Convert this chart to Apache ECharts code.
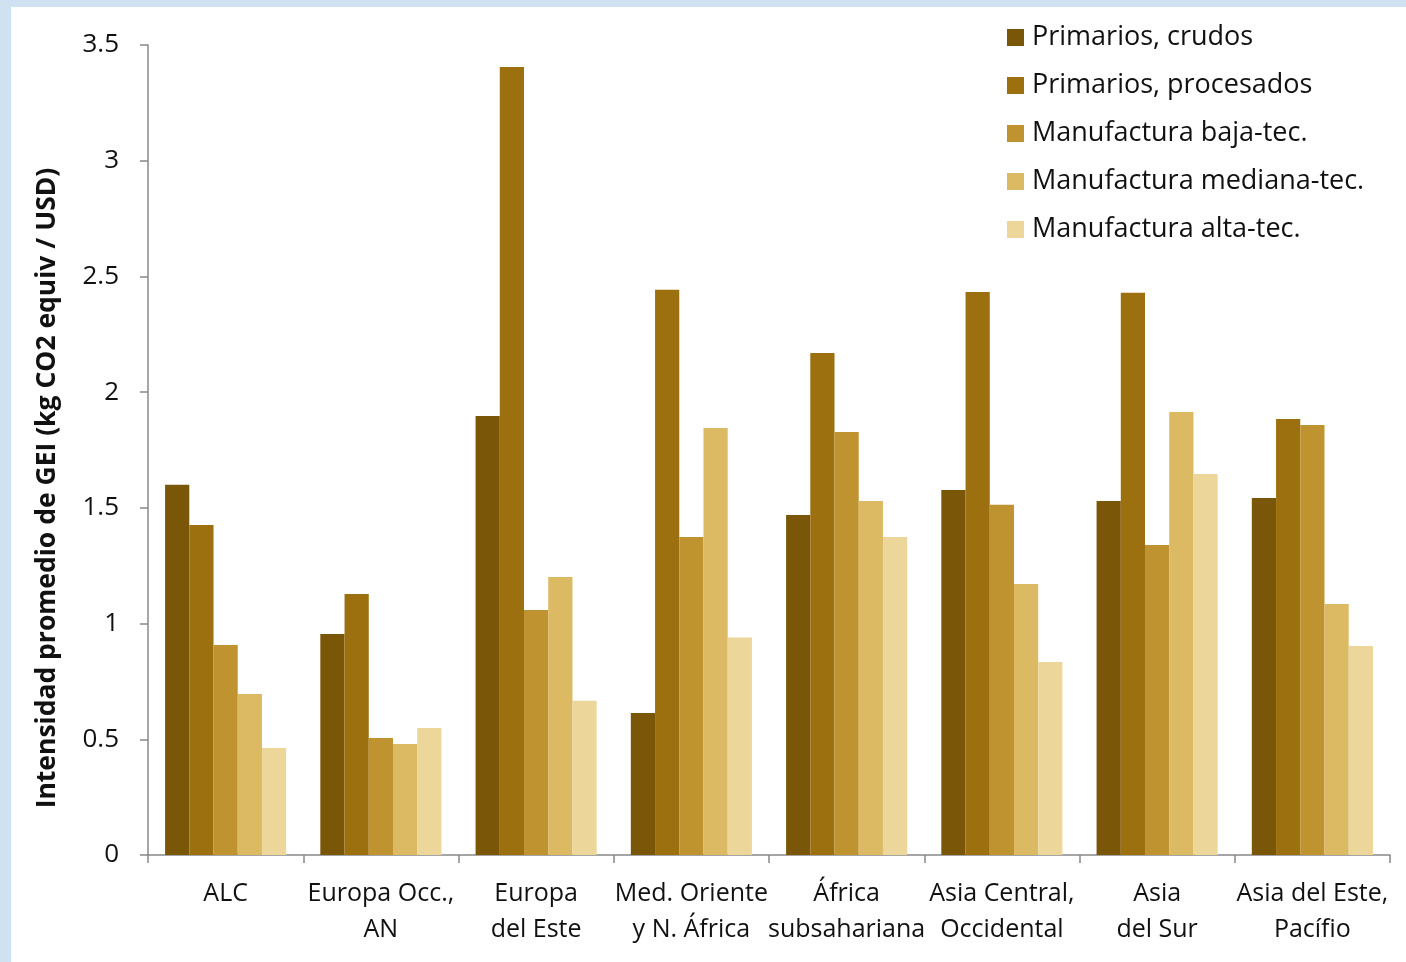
<!DOCTYPE html>
<html><head><meta charset="utf-8">
<script src="https://cdn.jsdelivr.net/npm/echarts@6/dist/echarts.min.js"></script>
<style>
html,body{margin:0;padding:0;width:1406px;height:962px;background:#d0e1f1;overflow:hidden;}
#c{position:absolute;left:11px;top:7px;width:1395px;height:955px;background:#ffffff;}
</style></head>
<body><div id="c"></div>
<script>
const categories = ["ALC", "Europa Occ.,\nAN", "Europa\ndel Este", "Med. Oriente\ny N. África", "África\nsubsahariana", "Asia Central,\nOccidental", "Asia\ndel Sur", "Asia del Este,\nPacífio"];
const seriesNames = ["Primarios, crudos", "Primarios, procesados", "Manufactura baja-tec.", "Manufactura mediana-tec.", "Manufactura alta-tec."];
const primariosCrudos = [1.60, 0.955, 1.897, 0.614, 1.469, 1.577, 1.530, 1.543];
const primariosProcesados = [1.426, 1.128, 3.405, 2.442, 2.169, 2.433, 2.429, 1.884];
const manufBaja = [0.907, 0.506, 1.059, 1.374, 1.828, 1.513, 1.340, 1.858];
const manufMediana = [0.696, 0.480, 1.201, 1.845, 1.530, 1.171, 1.914, 1.085];
const manufAlta = [0.462, 0.549, 0.666, 0.940, 1.374, 0.834, 1.646, 0.903];
const yTicks = [0, 0.5, 1, 1.5, 2, 2.5, 3, 3.5];
const yTitle = 'Intensidad promedio de GEI (kg CO2 equiv / USD)';
const colors = ["#7a5608", "#9c700f", "#bf9330", "#dcb963", "#ecd69a"];
const allData = [primariosCrudos, primariosProcesados, manufBaja, manufMediana, manufAlta];

const chart = echarts.init(document.getElementById('c'), null, {renderer: 'canvas'});
const font = '"Open Sans", sans-serif';
chart.setOption({
  animation: false,
  backgroundColor: '#ffffff',
  textStyle: {fontFamily: font},
  grid: {left: 137, right: 16, top: 38, bottom: 107, containLabel: false},
  graphic: [{
    type: 'text', x: 36, y: 481, rotation: Math.PI / 2,
    style: {text: yTitle, fontFamily: font, fontSize: 26.5, fontWeight: 'bold', fill: '#111',
      textAlign: 'center', textVerticalAlign: 'middle'}
  }],
  legend: {
    orient: 'vertical', left: 991, top: 12,
    itemWidth: 17, itemHeight: 17, itemGap: 21,
    icon: 'rect',
    textStyle: {fontFamily: font, fontSize: 27, color: '#111', padding: [0,0,0,3]},
    data: seriesNames
  },
  xAxis: {
    type: 'category', data: categories,
    axisLine: {lineStyle: {color: '#888', width: 1.5}},
    axisTick: {show: true, length: 8, lineStyle: {color: '#888', width: 1.5}},
    axisLabel: {interval: 0, fontSize: 25, color: '#111', lineHeight: 36, margin: 21, fontFamily: font}
  },
  yAxis: {
    type: 'value', min: 0, max: 3.5, interval: 0.5,
    axisLine: {show: true, lineStyle: {color: '#888', width: 1.5}},
    axisTick: {show: true, length: 8, lineStyle: {color: '#888', width: 1.5}},
    splitLine: {show: false},
    axisLabel: {fontSize: 26, color: '#111', margin: 29, fontFamily: font, padding: [3,0,0,0],
      formatter: v => yTicks.includes(v) ? String(v) : ''}
  },
  series: seriesNames.map((n, i) => ({
    name: n, type: 'bar', data: allData[i],
    barGap: '0%', barCategoryGap: '22%',
    itemStyle: {color: colors[i]}
  }))
});
</script></body></html>
